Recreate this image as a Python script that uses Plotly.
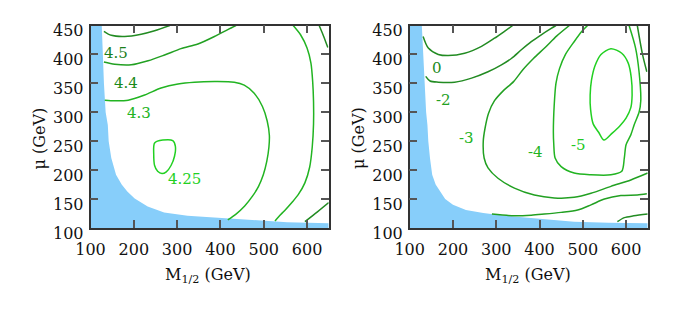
import plotly.graph_objects as go

# ---------------- data ----------------
X_RANGE = [100, 650]
Y_RANGE = [100, 450]
x_ticks = [100, 200, 300, 400, 500, 600]
y_ticks = [100, 150, 200, 250, 300, 350, 400, 450]

# excluded (blue) region boundary, left panel
blueL_x = [126, 128, 131, 135, 140, 142, 148, 159, 172, 185, 202, 232, 270, 324, 400, 477, 554, 650]
blueL_y = [450, 400, 350, 300, 278, 250, 221, 192, 175, 163, 151, 137, 127, 121, 117, 113, 110, 108]
# excluded (blue) region boundary, right panel
blueR_x = [128, 131, 134, 138, 141, 143, 147, 152, 160, 172, 182, 200, 230, 270, 320, 400, 480, 560, 650]
blueR_y = [450, 400, 350, 300, 278, 250, 220, 192, 175, 160, 150, 140, 131, 126, 121, 116, 111, 109, 108]

# left panel contours
L1_x = [131, 148, 179, 217, 248, 283]
L1_y = [440, 433, 431, 435, 441, 450]
L2_x = [131, 156, 194, 233, 271, 309, 348, 386, 417, 436]
L2_y = [387, 383, 382, 389, 399, 410, 418, 431, 443, 450]
L3_x = [133, 156, 187, 225, 263, 302, 340, 386, 432, 455, 478, 497, 508, 513, 512, 507, 499, 488, 474, 456, 436, 417]
L3_y = [321, 320, 321, 330, 342, 349, 352, 353, 352, 347, 333, 310, 285, 260, 240, 215, 192, 172, 155, 138, 124, 114]
L4_x = [568, 585, 600, 609, 613, 615, 615, 612, 606, 595, 580, 566, 548, 535, 526]
L4_y = [450, 434, 411, 385, 353, 318, 280, 240, 205, 178, 158, 145, 130, 120, 112]
L5_x = [628, 638, 648]
L5_y = [450, 432, 412]
L6_x = [650, 624, 595]
L6_y = [144, 128, 111]
L7_x = [248, 267, 290, 296, 294, 286, 275, 265, 255, 248, 246, 248]
L7_y = [247, 252, 251, 241, 224, 208, 197, 194, 198, 208, 227, 247]
labL_text = ["4.5", "4.4", "4.3", "4.25"]
labL_x = [158, 181, 212, 318]
labL_y = [402, 350, 298, 184]

# right panel contours
RA_x = [131, 143, 166, 189, 227, 266, 296, 319, 338]
RA_y = [431, 411, 400, 398, 402, 414, 428, 440, 450]
RB_x = [137, 147, 166, 204, 243, 281, 312, 335, 358, 381, 404, 427, 438]
RB_y = [362, 354, 352, 352, 359, 370, 382, 393, 408, 422, 434, 445, 450]
RC_x = [469, 440, 413, 386, 362, 340, 316, 296, 282, 274, 270, 272, 281, 304, 342, 388, 434, 480, 519, 565, 611, 650]
RC_y = [450, 432, 412, 393, 374, 353, 337, 320, 298, 272, 250, 221, 204, 186, 169, 157, 152, 153, 160, 172, 183, 195]
RD_x = [511, 498, 480, 460, 446, 438, 434, 432, 433, 436, 450, 480, 519, 565, 590, 596, 600, 611, 619, 630, 634, 630, 622, 607]
RD_y = [450, 440, 422, 400, 375, 350, 313, 266, 244, 221, 206, 195, 192, 192, 198, 221, 244, 261, 279, 300, 320, 370, 411, 450]
RE_x = [565, 590, 605, 612, 614, 611, 600, 585, 568, 549, 537, 524, 518, 517, 520, 528, 542, 565]
RE_y = [410, 402, 385, 360, 330, 308, 290, 276, 264, 252, 265, 280, 305, 330, 355, 380, 400, 410]
RG_x = [626, 638, 648]
RG_y = [450, 400, 370]
RH_x = [648, 626, 588, 550, 519, 488, 450, 411, 381, 342, 290]
RH_y = [159, 157, 156, 150, 140, 131, 127, 124, 122, 121, 124]
RI_x = [650, 618, 596, 580]
RI_y = [124, 121, 118, 111]
labR_text = ["0", "-2", "-3", "-4", "-5"]
labR_x = [162, 179, 231, 390, 491]
labR_y = [376, 321, 255, 231, 243]

# ---------------- styling ----------------
FONT = "DejaVu Serif"
BLUE = "#87cefa"
DK = "#228b22"
MD = "#22a022"
MB = "#22b422"
BR = "#22d022"

fig = go.Figure()


def add_blue(bx, by, xa, ya):
    xs = [X_RANGE[0], X_RANGE[0]] + bx + [X_RANGE[1], X_RANGE[0]]
    ys = [Y_RANGE[0], Y_RANGE[1]] + by + [Y_RANGE[0], Y_RANGE[0]]
    fig.add_trace(go.Scatter(x=xs, y=ys, mode="lines", fill="toself", fillcolor=BLUE,
                             line=dict(width=0, color=BLUE), xaxis=xa, yaxis=ya,
                             hoverinfo="skip", showlegend=False))


def add_line(x, y, color, xa, ya):
    fig.add_trace(go.Scatter(x=x, y=y, mode="lines",
                             line=dict(color=color, width=1.5, shape="spline", smoothing=0.8),
                             xaxis=xa, yaxis=ya, hoverinfo="skip", showlegend=False))


add_blue(blueL_x, blueL_y, "x", "y")
add_blue(blueR_x, blueR_y, "x2", "y2")

for (cx, cy, col) in [(L1_x, L1_y, DK), (L2_x, L2_y, MD), (L3_x, L3_y, MB), (L4_x, L4_y, MB),
                      (L5_x, L5_y, DK), (L6_x, L6_y, DK), (L7_x, L7_y, BR)]:
    add_line(cx, cy, col, "x", "y")

for (cx, cy, col) in [(RA_x, RA_y, DK), (RB_x, RB_y, DK), (RC_x, RC_y, MD), (RD_x, RD_y, MB),
                      (RE_x, RE_y, BR), (RG_x, RG_y, DK), (RH_x, RH_y, MD), (RI_x, RI_y, DK)]:
    add_line(cx, cy, col, "x2", "y2")

labL_col = ["#1a7f1a", "#1a8a1a", "#22b422", "#22d022"]
labR_col = ["#1a8a1a", "#22a022", "#22b422", "#22b422", "#22c822"]
for (tx, ty, tt, tc, xa, ya) in [(labL_x, labL_y, labL_text, labL_col, "x", "y"),
                                 (labR_x, labR_y, labR_text, labR_col, "x2", "y2")]:
    for i in range(len(tt)):
        fig.add_annotation(x=tx[i], y=ty[i], text=tt[i], xref=xa, yref=ya, showarrow=False,
                           font=dict(family=FONT, size=15, color=tc[i]),
                           xanchor="center", yanchor="middle")

# page body adds an 8px margin; size the figure so the window holds it exactly
OFF = 8
W, H = 692 - OFF, 317 - OFF


def fx(px):
    return (px - OFF) / W


def fy(py):
    return 1 - (py - OFF) / H


axis_common = dict(showgrid=False, zeroline=False, showline=True, linecolor="#333333", linewidth=1.5,
                   mirror="allticks", ticks="inside", ticklen=8, tickwidth=1.5, tickcolor="#555555",
                   automargin=False,
                   tickfont=dict(family=FONT, size=16, color="#111111"))

xd1 = [fx(90.5), fx(328.7)]
xd2 = [fx(409.7), fx(647.7)]
yd = [fy(228), fy(25.5)]

fig.update_layout(
    width=W, height=H, margin=dict(l=0, r=0, t=0, b=0, autoexpand=False),
    paper_bgcolor="white", plot_bgcolor="white", showlegend=False,
    xaxis=dict(domain=xd1, range=X_RANGE, tickvals=x_ticks, anchor="y", ticklabelstandoff=6, **axis_common),
    yaxis=dict(domain=yd, range=Y_RANGE, tickvals=y_ticks, anchor="x", ticklabelstandoff=2, ticklabelshift=5, **axis_common),
    xaxis2=dict(domain=xd2, range=X_RANGE, tickvals=x_ticks, anchor="y2", ticklabelstandoff=6, **axis_common),
    yaxis2=dict(domain=yd, range=Y_RANGE, tickvals=y_ticks, anchor="x2", ticklabelstandoff=2, ticklabelshift=5, **axis_common),
)

title_font = dict(family=FONT, size=16, color="#111111")
for cx in [207.5, 527.7]:
    fig.add_annotation(text="M<sub>1/2</sub> (GeV)", x=fx(cx), y=fy(275), xref="paper", yref="paper",
                       showarrow=False, font=title_font, xanchor="center", yanchor="middle")
for cx in [39, 358.5]:
    fig.add_annotation(text="μ (GeV)", x=fx(cx), y=fy(138.5), xref="paper", yref="paper",
                       showarrow=False, font=title_font, textangle=-90, xanchor="center", yanchor="middle")

fig.write_html("out.html")
